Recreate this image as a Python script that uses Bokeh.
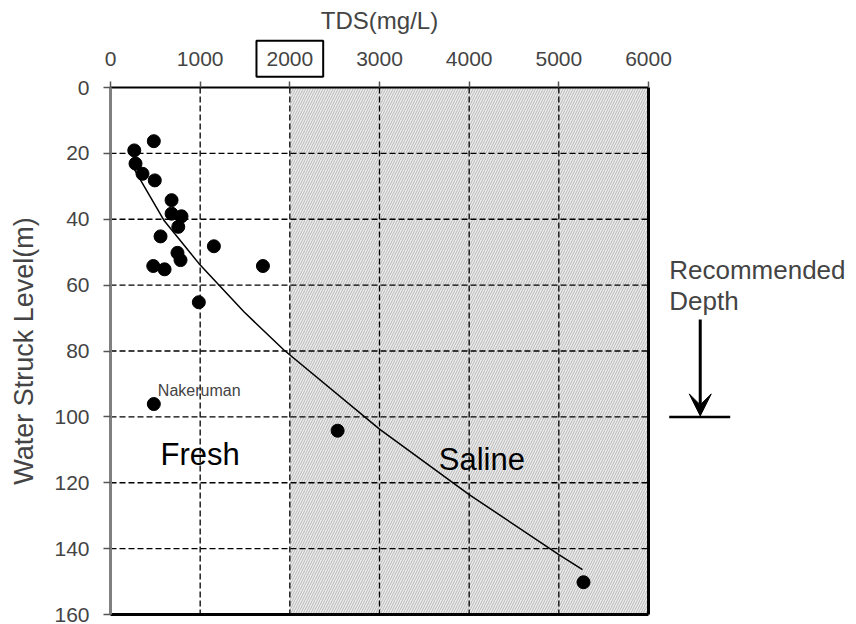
from bokeh.plotting import figure
from bokeh.models import Range1d, Label, Arrow, VeeHead, FixedTicker, LinearAxis
from bokeh.embed import file_html
from bokeh.resources import INLINE
from bokeh.core.properties import value

# ---- data ----
tds = [483, 265, 279, 357, 494, 681, 681, 792, 756, 558, 747, 781, 1153, 477, 603, 1700, 985, 483, 2533, 5275]
depth = [16.3, 19.1, 23.1, 26.2, 28.2, 34.2, 38.3, 39.1, 42.3, 45.2, 50.2, 52.4, 48.2, 54.2, 55.2, 54.2, 65.2, 96.1, 104.2, 150.2]

trend_tds = [265, 324, 595, 985, 1488, 1934, 3000, 4000, 5000, 5264]
trend_depth = [24.8, 27.6, 40.3, 53.4, 68.1, 79.7, 103.7, 123.6, 141.8, 146.4]

x_ticks = [0, 1000, 2000, 3000, 4000, 5000, 6000]
y_ticks = [0, 20, 40, 60, 80, 100, 120, 140, 160]
saline_from = 2000
recommended_depth = 100

FONT = "Liberation Sans"

# ---- layout (pixels of the plotting box inside the canvas) ----
W, H = 856, 624
LEFT, RIGHT, TOP, BOTTOM = 110, 648, 87, 614
x0, x1 = x_ticks[0], x_ticks[-1]
y0, y1 = y_ticks[0], y_ticks[-1]
kx = (x1 - x0) / (RIGHT - LEFT)
ky = (y1 - y0) / (BOTTOM - TOP)

p = figure(width=W, height=H,
           x_range=Range1d(x0 - LEFT * kx, x1 + (W - RIGHT) * kx),
           y_range=Range1d(y1 + (H - BOTTOM) * ky, y0 - TOP * ky),
           x_axis_location=None, y_axis_location=None,
           output_backend="svg", toolbar_location=None,
           min_border=0)
p.background_fill_color = "white"
p.border_fill_color = "white"
p.outline_line_color = None
p.grid.visible = False

# saline hatched region
p.quad(left=saline_from, right=x1, top=y0, bottom=y1,
       fill_color="#ececec", hatch_pattern="/", hatch_color="#aaaaaa",
       hatch_scale=5, hatch_weight=0.8, line_color=None)

p.text(x=[999, 4141], y=[111.3, 113], text=["Fresh", "Saline"],
       text_font=value(FONT), text_font_size=value("31px"),
       text_align="center", text_baseline="alphabetic", text_color="black")

# dashed grid
gx = x_ticks[1:-1]
gy = y_ticks[1:-1]
p.segment(x0=gx, y0=[y0] * len(gx), x1=gx, y1=[y1] * len(gx),
          line_color="black", line_dash="6 3", line_width=1.3)
p.segment(x0=[x0] * len(gy), y0=gy, x1=[x1] * len(gy), y1=gy,
          line_color="black", line_dash="6 3", line_width=1.3)

# right & bottom frame
p.segment(x0=[x1, x0], y0=[y0, y1], x1=[x1, x1], y1=[y1, y1],
          line_color="black", line_width=3)

# trend + points
p.line(trend_tds, trend_depth, line_color="black", line_width=1.5)
p.scatter(tds, depth, size=13, fill_color="black", line_color="black")

# axes fixed at the plotting box edges
xa = LinearAxis(fixed_location=y0, bounds=(x0, x1))
xa.ticker = FixedTicker(ticks=x_ticks)
xa.axis_label = "TDS(mg/L)"
xa.axis_label_text_font = FONT
xa.axis_label_text_font_size = "24px"
xa.axis_label_text_font_style = "normal"
xa.axis_label_standoff = 10
xa.major_label_text_font = FONT
xa.major_label_text_font_size = "21px"
xa.major_label_standoff = 12
xa.major_label_overrides = {2000: " "}
xa.axis_line_color = "black"
xa.axis_line_width = 2
xa.major_tick_line_color = "#555555"
xa.major_tick_line_width = 1.5
xa.major_tick_out = 6
xa.major_tick_in = 0
xa.minor_tick_line_color = None
p.add_layout(xa, "above")

ya = LinearAxis(fixed_location=x0, bounds=(y0, y1))
ya.ticker = FixedTicker(ticks=y_ticks)
ya.axis_label = "Water Struck Level(m)"
ya.axis_label_text_font = FONT
ya.axis_label_text_font_size = "27px"
ya.axis_label_text_font_style = "normal"
ya.axis_label_standoff = 12
ya.major_label_text_font = FONT
ya.major_label_text_font_size = "21px"
ya.major_label_standoff = 14
ya.axis_line_color = "#808080"
ya.axis_line_width = 3
ya.major_tick_line_color = "#555555"
ya.major_tick_line_width = 1.5
ya.major_tick_out = 7
ya.major_tick_in = 0
ya.minor_tick_line_color = None
p.add_layout(ya, "left")

# boxed 2000 tick label
p.add_layout(Label(x=2000, y=-8.7, text="2000", text_font=FONT,
                   text_font_size="21px", text_align="center",
                   text_baseline="middle", border_line_color="black",
                   border_line_width=2, padding=(10, 11)))

# Nakeruman
p.add_layout(Label(x=528, y=92, text="Nakeruman", text_font=FONT,
                   text_font_size="16px", text_align="left",
                   text_baseline="alphabetic"))

# Recommended depth annotation
p.add_layout(Label(x=6231, y=55.5, text="Recommended", text_font=FONT,
                   text_font_size="26px", text_align="left",
                   text_baseline="alphabetic"))
p.add_layout(Label(x=6231, y=64.8, text="Depth", text_font=FONT,
                   text_font_size="26px", text_align="left",
                   text_baseline="alphabetic"))
p.add_layout(Arrow(end=VeeHead(size=22, fill_color="black", line_color="black", line_width=1),
                   x_start=6577, y_start=70.4, x_end=6577, y_end=recommended_depth - 0.3,
                   line_width=3, line_color="black"))
p.add_layout(Arrow(start=None, end=None, x_start=6231, y_start=recommended_depth,
                   x_end=6911, y_end=recommended_depth, line_width=2.5, line_color="black"))

open("out.html", "w").write(file_html(p, INLINE))
